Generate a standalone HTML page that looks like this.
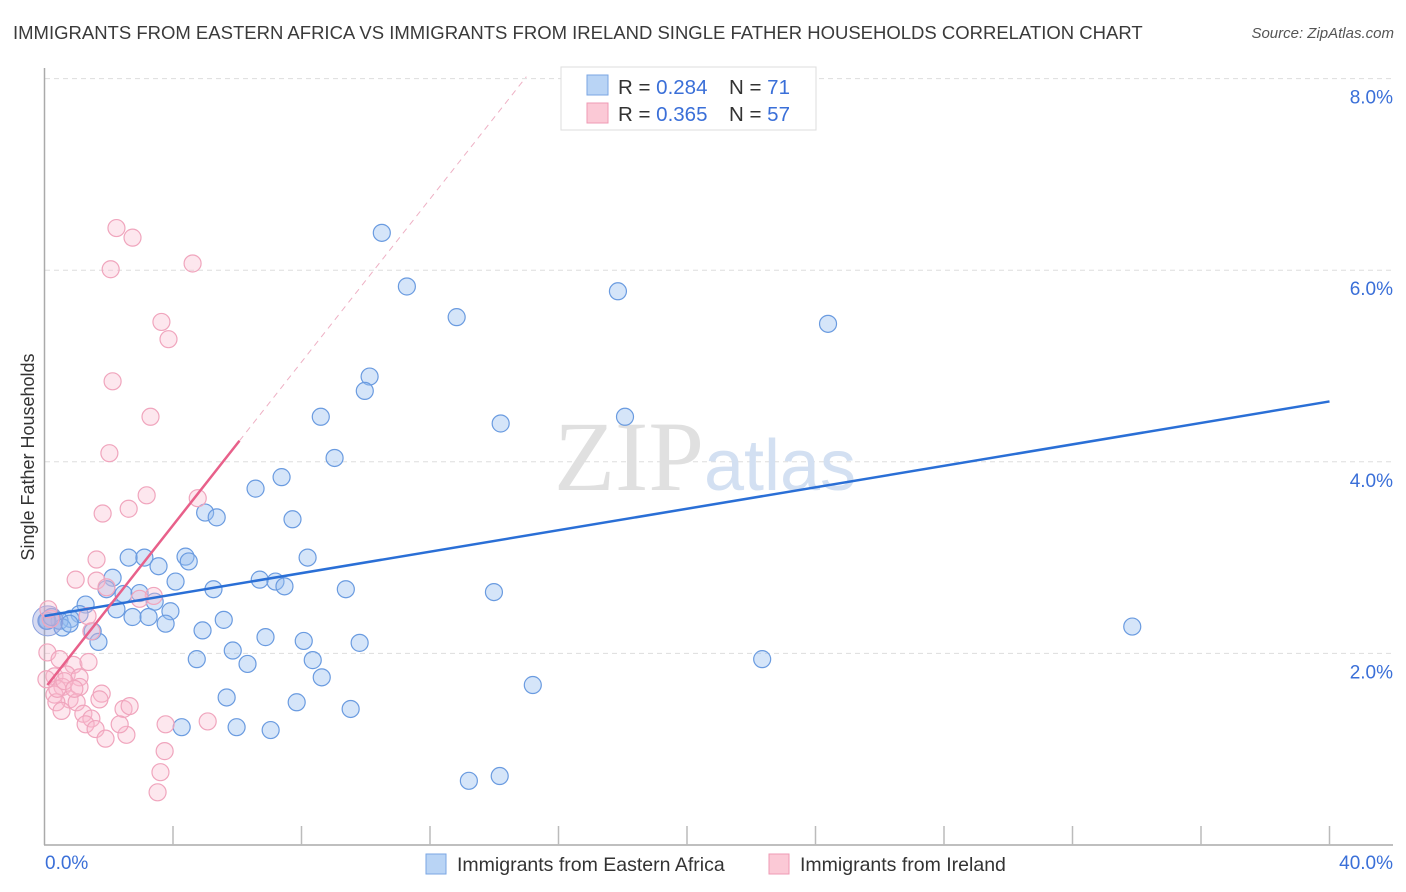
<!DOCTYPE html>
<html><head><meta charset="utf-8"><style>
body{margin:0;background:#fff;font-family:"Liberation Sans",sans-serif}
#wrap{position:relative;width:1406px;height:892px;overflow:hidden}
.t{position:absolute;white-space:nowrap}
</style></head><body><div id="wrap">
<div class="t" style="left:13px;top:22px;font-size:18.5px;color:#3a3a3a">IMMIGRANTS FROM EASTERN AFRICA VS IMMIGRANTS FROM IRELAND SINGLE FATHER HOUSEHOLDS CORRELATION CHART</div>
<div class="t" style="right:12px;top:25px;font-size:15px;color:#555;font-style:italic">Source: ZipAtlas.com</div>
<svg id="svg" width="1406" height="892" style="position:absolute;left:0;top:0"></svg>
</div>
<script>
const bx=[10.5,11.28,12.83,17.85,24.39,10.12,9.97,8.6,14.2,18.07,9.03,6.57,7.38,5.0,5.36,7.72,2.62,3.11,4.39,4.49,3.55,8.19,2.12,4.08,6.7,7.19,7.47,5.26,9.38,13.99,1.93,2.46,2.96,3.43,1.28,2.24,3.92,2.74,3.24,3.77,5.58,1.09,0.81,0.47,0.09,0.56,4.92,6.88,8.07,9.81,1.5,1.68,5.86,4.74,6.32,8.35,8.63,15.2,22.34,33.86,5.67,7.85,9.53,4.27,5.98,7.04,13.21,14.17,0.06,0.22,0.78];
const by=[6.39,5.83,5.51,5.78,5.44,4.89,4.74,4.47,4.4,4.47,4.04,3.72,3.84,3.47,3.42,3.4,3.0,3.0,3.01,2.96,2.91,3.0,2.79,2.75,2.77,2.75,2.7,2.67,2.67,2.64,2.67,2.62,2.63,2.54,2.51,2.46,2.44,2.38,2.38,2.31,2.35,2.41,2.36,2.34,2.34,2.27,2.24,2.17,2.13,2.11,2.23,2.12,2.03,1.94,1.89,1.93,1.75,1.67,1.94,2.28,1.54,1.49,1.42,1.23,1.23,1.2,0.67,0.72,2.34,2.38,2.31];
const px=[2.24,2.74,2.06,4.61,3.64,3.86,2.12,3.3,2.02,3.18,1.81,2.62,4.77,1.62,0.97,1.62,1.93,3.4,1.34,1.46,0.09,0.9,1.37,0.31,0.69,1.09,0.56,1.09,1.78,0.31,0.78,0.37,1.0,0.53,1.21,1.46,1.28,1.59,1.9,2.55,2.46,2.65,3.77,5.08,3.74,3.61,3.52,0.19,0.12,0.4,0.06,0.62,1.71,0.93,2.34,2.96,0.47];
const py=[6.44,6.34,6.01,6.07,5.46,5.28,4.84,4.47,4.09,3.65,3.46,3.51,3.62,2.98,2.77,2.76,2.69,2.6,2.39,2.23,2.01,1.88,1.91,1.76,1.78,1.75,1.65,1.65,1.58,1.57,1.52,1.49,1.49,1.4,1.37,1.32,1.26,1.21,1.11,1.15,1.42,1.45,1.26,1.29,0.98,0.76,0.55,2.36,2.46,1.63,1.73,1.71,1.52,1.63,1.26,2.57,1.94];
const yTicks=[2,4,6,8];
const blueTrend=[[0,2.39],[40,4.63]];
const pinkTrend=[[0.09,1.67],[6.07,4.22]];
const pinkDash=[[6.07,4.22],[15.0,8.02]];
const X=v=>44.5+v*32.125, Y=v=>845-v*95.8;
const svg=document.getElementById('svg');const NS='http://www.w3.org/2000/svg';
function mk(tag,at,name,parent){const e=document.createElementNS(NS,tag);for(const k in at)e.setAttribute(k,at[k]);


(parent||svg).appendChild(e);return e;}
yTicks.forEach(v=>{mk('line',{x1:45,x2:1393,y1:Y(v),y2:Y(v),stroke:'#ddd','stroke-dasharray':'5,4'},'y-gridline');
const t=mk('text',{x:1393,y:Y(v)+25,'text-anchor':'end','font-size':19,fill:'#3a6fd8'},'y-tick-label');t.textContent=v.toFixed(1)+'%';});
mk('line',{x1:44.5,x2:44.5,y1:68,y2:845,stroke:'#aaa','stroke-width':1.5},'y-axis');
mk('line',{x1:44,x2:1393,y1:845,y2:845,stroke:'#aaa','stroke-width':1.5},'x-axis');
for(let i=1;i<=10;i++)mk('line',{x1:X(i*4),x2:X(i*4),y1:826,y2:845,stroke:'#bbb','stroke-width':1.5},'x-tick');
let t=mk('text',{x:45,y:869,'font-size':19,fill:'#3a6fd8'},'x-min-label');t.textContent='0.0%';
t=mk('text',{x:1393,y:869,'text-anchor':'end','font-size':19,fill:'#3a6fd8'},'x-max-label');t.textContent='40.0%';
t=mk('text',{x:34,y:457,'text-anchor':'middle','font-size':18,fill:'#333',transform:'rotate(-90 34 457)'},'y-axis-title');t.textContent='Single Father Households';
t=mk('text',{x:705,y:490,'text-anchor':'middle','font-size':100,fill:'#e0e0e0','font-family':'Liberation Serif'},'watermark');t.innerHTML='ZIP<tspan font-family="Liberation Sans" font-size="72" fill="#d3e0f2">atlas</tspan>';
bx.forEach((v,i)=>mk('circle',{cx:X(v),cy:Y(by[i]),r:8.5,fill:'rgba(150,190,240,0.4)',stroke:'#6a9be0','stroke-width':1.2},'eastern-africa-point'));
mk('circle',{cx:X(0.1),cy:Y(2.34),r:15,fill:'rgba(150,160,220,0.4)',stroke:'#8aa0dd'},'eastern-africa-large-point');
px.forEach((v,i)=>mk('circle',{cx:X(v),cy:Y(py[i]),r:8.5,fill:'rgba(248,185,205,0.35)',stroke:'#f0a5bd','stroke-width':1.2},'ireland-point'));
mk('line',{x1:X(blueTrend[0][0]),y1:Y(blueTrend[0][1]),x2:X(blueTrend[1][0]),y2:Y(blueTrend[1][1]),stroke:'#2a6fd6','stroke-width':2.5},'eastern-africa-trendline');
mk('line',{x1:X(pinkTrend[0][0]),y1:Y(pinkTrend[0][1]),x2:X(pinkTrend[1][0]),y2:Y(pinkTrend[1][1]),stroke:'#e8608a','stroke-width':2.5},'ireland-trendline');
mk('line',{x1:X(pinkDash[0][0]),y1:Y(pinkDash[0][1]),x2:X(pinkDash[1][0]),y2:Y(pinkDash[1][1]),stroke:'#eeb0c4','stroke-width':1,'stroke-dasharray':'6,5'},'ireland-trend-extension');
mk('rect',{x:561,y:67,width:255,height:63,fill:'#fff',stroke:'#ddd'},'legend-box');
mk('rect',{x:587,y:75,width:21,height:20,fill:'#b9d4f5',stroke:'#7aa6e3'},'legend-swatch-blue');
mk('rect',{x:587,y:103,width:21,height:20,fill:'#fbc9d6',stroke:'#ef9ab4'},'legend-swatch-pink');
[[94,'0.284',' 71'],[121,'0.365','57']].forEach(r=>{let a=mk('text',{x:618,y:r[0],'font-size':20.5,fill:'#333'},'legend-stats');
a.innerHTML='R = <tspan fill="#3a6fd8">'+r[1]+'</tspan>';
a=mk('text',{x:729,y:r[0],'font-size':20.5,fill:'#333'},'legend-count');a.innerHTML='N = <tspan fill="#3a6fd8">'+r[2]+'</tspan>';});
mk('rect',{x:426,y:854,width:20,height:20,fill:'#b9d4f5',stroke:'#7aa6e3'},'bottom-legend-swatch-blue');
t=mk('text',{x:457,y:871,'font-size':19.5,fill:'#333'},'bottom-legend-eastern-africa');t.textContent='Immigrants from Eastern Africa';
mk('rect',{x:769,y:854,width:20,height:20,fill:'#fbc9d6',stroke:'#ef9ab4'},'bottom-legend-swatch-pink');
t=mk('text',{x:800,y:871,'font-size':19.5,fill:'#333'},'bottom-legend-ireland');t.textContent='Immigrants from Ireland';
</script></body></html>
